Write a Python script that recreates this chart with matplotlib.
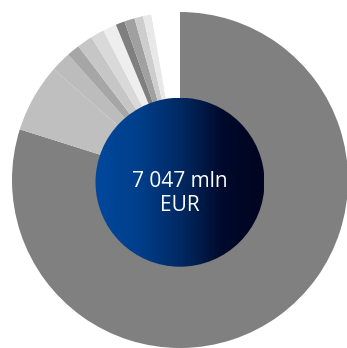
import numpy as np
import matplotlib.pyplot as plt
from matplotlib.colors import LinearSegmentedColormap
from matplotlib.patches import Circle

# portfolio split, mln EUR (clockwise from 12 o'clock)
values = [5629, 464, 137, 88, 106, 92, 92, 61, 70, 59, 57, 192]
colors = ['#808080', '#bfbfbf', '#bcbcbc', '#a6a6a6', '#c6c6c6', '#d9d9d9',
          '#eeeeee', '#7f7f7f', '#a0a0a0', '#cdcdcd', '#e8e8e8', '#ffffff']
total_label = '7 047 mln\nEUR'

W, H = 347, 348
fig = plt.figure(figsize=(W / 100, H / 100), dpi=100)
ax = fig.add_axes([0, 0, 1, 1])

# outer ring
cx, cy, R = 180, H - 180, 168
ax.pie(values, colors=colors, startangle=90, counterclock=False,
       center=(cx, cy), radius=R, wedgeprops=dict(linewidth=0))

# centre disc with horizontal blue gradient
r = 84.5
ccy = H - 182.2
cmap = LinearSegmentedColormap.from_list(
    'blue', ['#00489d', '#003f8c', '#002a64', '#000a2c', '#00051f'])
grad = np.linspace(0, 1, 256).reshape(1, -1)
disc = Circle((cx, ccy), r, transform=ax.transData)
im = ax.imshow(grad, cmap=cmap, extent=[cx - r, cx + r, ccy - r, ccy + r],
               aspect='auto', interpolation='bilinear', zorder=3)
im.set_clip_path(disc)

line1, line2 = total_label.split('\n')
ax.text(cx, H - 186.7, line1, color='white', fontsize=15, family='Open Sans',
        weight='medium', ha='center', va='baseline', zorder=4)
ax.text(cx, H - 211, line2, color='white', fontsize=15, family='Open Sans',
        weight='medium', ha='center', va='baseline', zorder=4)

ax.set_xlim(0, W)
ax.set_ylim(0, H)
ax.set_aspect('auto')
ax.axis('off')
fig.savefig('out.png', dpi=100)
